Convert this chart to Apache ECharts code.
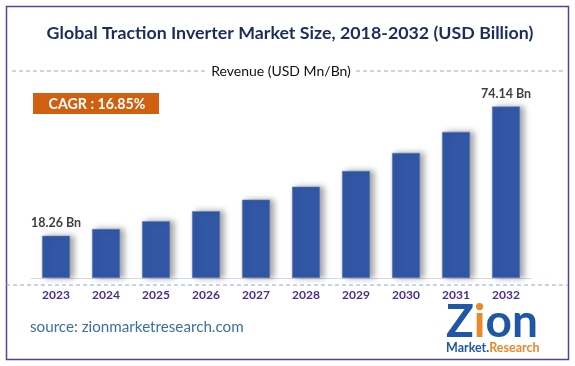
<!DOCTYPE html>
<html>
<head>
<meta charset="utf-8">
<script src="https://cdn.jsdelivr.net/npm/echarts@6/dist/echarts.min.js"></script>
<style>
html,body{margin:0;padding:0;background:#fff;}
#c{width:575px;height:366px;}
</style>
</head>
<body>
<div id="c"></div>
<script>
var years = ['2023','2024','2025','2026','2027','2028','2029','2030','2031','2032'];
var revenue = [18.26, 21.2, 24.6, 28.9, 33.9, 39.5, 46.3, 54.1, 63.2, 74.14];
var labelledYears = ['2023','2032'];
var titleText = 'Global Traction Inverter Market Size, 2018-2032 (USD Billion)';
var legendText = 'Revenue (USD Mn/Bn)';
var cagrText = 'CAGR : 16.85%';
var sourceText = 'source: zionmarketresearch.com';

var chart = echarts.init(document.getElementById('c'), null, {renderer:'canvas'});
var font = 'Lato, "Open Sans", sans-serif';
var option = {
  animation: false,
  backgroundColor: '#ffffff',
  grid: {left: 31, right: 44, top: 93, bottom: 88},
  xAxis: {
    type: 'category',
    data: years,
    axisLine: {show: true, lineStyle: {color: '#d9d9d9', width: 1}},
    axisTick: {show: false},
    axisLabel: {color: '#4a2f8f', fontWeight: 'bold', fontSize: 12, fontFamily: font, margin: 11}
  },
  yAxis: {
    type: 'value', min: 0, max: 80,
    show: false,
    splitLine: {show: false}
  },
  series: [{
    type: 'bar',
    data: revenue,
    barWidth: 28,
    itemStyle: {
      color: '#3257a5',
      borderColor: '#5f80bf',
      borderWidth: 0.6,
      shadowColor: 'rgba(0,0,0,0.35)',
      shadowBlur: 6,
      shadowOffsetX: 4,
      shadowOffsetY: 0
    },
    label: {
      show: true,
      position: 'top',
      distance: 6,
      color: '#404040',
      fontWeight: 'bold',
      fontSize: 12.5,
      fontFamily: font,
      formatter: function (p) {
        return labelledYears.indexOf(p.name) >= 0 ? p.value.toFixed(2) + ' Bn' : '';
      }
    }
  }],
  graphic: [
    {type: 'rect', shape: {x: 6.5, y: 6.5, width: 562, height: 353}, style: {fill: 'none', stroke: '#5a3ea0', lineWidth: 1.5}, silent: true},
    {type: 'text', x: 290, y: 33, style: {text: titleText, fill: '#1b2d5c', font: 'bold 17.8px ' + font, textAlign: 'center', textVerticalAlign: 'middle'}},
    {type: 'line', shape: {x1: 12, y1: 71, x2: 207, y2: 71}, style: {stroke: '#8eaad8', lineWidth: 1, lineDash: [4, 3]}},
    {type: 'line', shape: {x1: 356, y1: 71, x2: 565, y2: 71}, style: {stroke: '#8eaad8', lineWidth: 1, lineDash: [4, 3]}},
    {type: 'text', x: 281, y: 71, style: {text: legendText, fill: '#111111', font: '14px ' + font, textAlign: 'center', textVerticalAlign: 'middle'}},
    {type: 'rect', shape: {x: 33, y: 93, width: 126, height: 21}, style: {fill: '#d0600f'}},
    {type: 'text', x: 97, y: 104, style: {text: cagrText, fill: '#ffffff', font: 'bold 14.2px ' + font, textAlign: 'center', textVerticalAlign: 'middle'}},
    {type: 'line', shape: {x1: 6, y1: 285, x2: 568, y2: 285}, style: {stroke: '#8eaad8', lineWidth: 1, lineDash: [4, 3]}},
    {type: 'text', x: 30, y: 327, style: {text: sourceText, fill: '#3a6fa6', font: '15.2px ' + font, textAlign: 'left', textVerticalAlign: 'middle'}},
    {type: 'text', x: 446, y: 322, style: {
      text: '{z|Z}{i|i}{o|o}{n|n}',
      textVerticalAlign: 'middle',
      rich: {
        z: {fill: '#1f57a4', font: 'bold 46px ' + font},
        i: {fill: '#e8892a', font: 'bold 46px ' + font},
        o: {fill: '#1f57a4', font: 'bold 46px ' + font},
        n: {fill: '#1f57a4', font: 'bold 46px ' + font}
      }
    }},
    {type: 'text', x: 446, y: 348, style: {
      text: '{m|Market.}{r|Research}',
      textVerticalAlign: 'middle',
      rich: {
        m: {fill: '#1f57a4', font: 'bold 12.5px ' + font},
        r: {fill: '#e8892a', font: 'bold 12.5px ' + font}
      }
    }}
  ]
};
chart.setOption(option);
</script>
</body>
</html>
